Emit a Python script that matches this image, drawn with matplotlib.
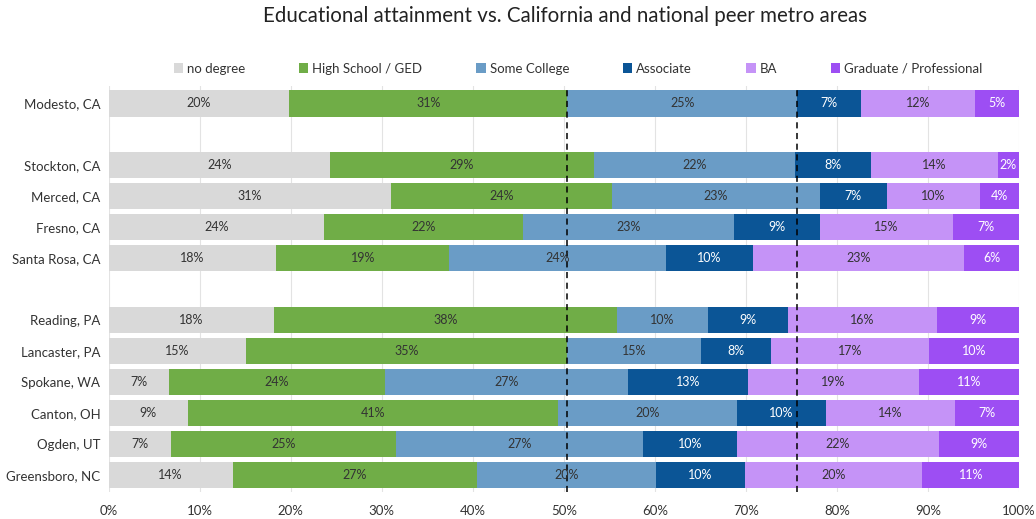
import matplotlib.pyplot as plt
from matplotlib.ticker import PercentFormatter

plt.rcParams['font.family'] = ['Lato', 'DejaVu Sans']

# cities, top to bottom; None = blank gap row
cities = ['Modesto, CA', None,
          'Stockton, CA', 'Merced, CA', 'Fresno, CA', 'Santa Rosa, CA', None,
          'Reading, PA', 'Lancaster, PA', 'Spokane, WA', 'Canton, OH', 'Ogden, UT', 'Greensboro, NC']

categories = ['no degree', 'High School / GED', 'Some College', 'Associate', 'BA', 'Graduate / Professional']

# share of population (%) per category, same order as cities (None rows skipped)
no_degree = [19.8, 24.3, 31.0, 23.7, 18.4, 18.2, 15.1, 6.6, 8.7, 6.8, 13.6]
high_school = [30.6, 29.0, 24.3, 21.8, 19.0, 37.6, 35.2, 23.8, 40.7, 24.8, 26.9]
some_college = [25.2, 22.1, 22.8, 23.2, 23.8, 10.0, 14.8, 26.7, 19.6, 27.1, 19.6]
associate = [7.1, 8.3, 7.4, 9.4, 9.6, 8.8, 7.7, 13.1, 9.8, 10.3, 9.8]
ba = [12.5, 14.0, 10.2, 14.7, 23.2, 16.4, 17.3, 18.8, 14.2, 22.2, 19.5]
graduate = [4.8, 2.3, 4.3, 7.2, 6.0, 9.0, 9.9, 11.0, 7.0, 8.8, 10.6]

ref_lines = [50.3, 75.6]

colors = ['#d9d9d9', '#70ad47', '#6a9cc6', '#0b5596', '#c593f7', '#9d4ef3']
text_colors = ['#333333', '#333333', '#333333', 'white', '#333333', 'white']

series = [no_degree, high_school, some_college, associate, ba, graduate]
ypos = [i for i, c in enumerate(cities) if c is not None]
names = [c for c in cities if c is not None]

fig = plt.figure(figsize=(10.36, 5.19), dpi=100)
ax = fig.add_axes([0.105, 0.052, 0.8785, 0.782])

left = [0.0] * len(ypos)
for vals, col, tcol, cat in zip(series, colors, text_colors, categories):
    bars = ax.barh(ypos, vals, left=left, height=0.86, color=col, label=cat, zorder=2)
    for y, l, v in zip(ypos, left, vals):
        ax.text(l + v / 2, y, f'{v:.0f}%', ha='center', va='center',
                fontsize=9, color=tcol, zorder=4)
    left = [a + b for a, b in zip(left, vals)]

for x in ref_lines:
    ax.axvline(x, color='black', linestyle=(0, (4, 3)), linewidth=1.1, zorder=3)

ax.set_xlim(0, 100)
ax.set_ylim(12.55, -0.55)
ax.set_xticks(range(0, 101, 10))
ax.xaxis.set_major_formatter(PercentFormatter(decimals=0))
ax.set_yticks(ypos)
ax.set_yticklabels(names)
ax.tick_params(axis='both', length=0, labelsize=9.5, colors='#333333')
ax.tick_params(axis='y', pad=6)
ax.tick_params(axis='x', pad=9)
ax.grid(axis='x', color='#e3e3e3', linewidth=0.8, zorder=0)
for s in ax.spines.values():
    s.set_visible(False)

fig.legend(loc='center', bbox_to_anchor=(0.558, 0.868), ncol=6, frameon=False,
           fontsize=9.5, handlelength=0.7, handleheight=0.7, handletextpad=0.3,
           columnspacing=4.1, labelcolor='#333333')

fig.suptitle('Educational attainment vs. California and national peer metro areas',
             x=0.545, y=0.988, fontsize=14.8, color='#222222')

fig.savefig('out.png', dpi=100)
